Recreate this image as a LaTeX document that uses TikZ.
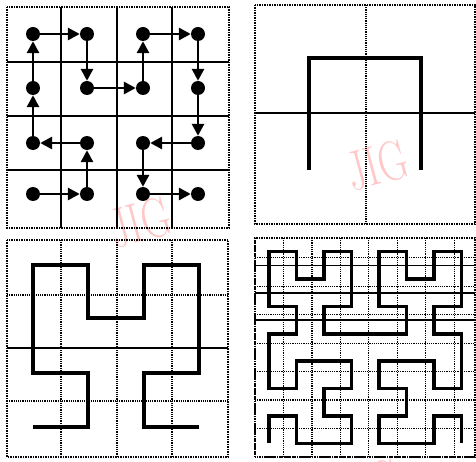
\documentclass[tikz,border=0pt]{standalone}
\usetikzlibrary{arrows.meta}
\begin{document}
\begin{tikzpicture}[x=1pt, y=-1pt,
  dot/.style={circle, fill=black, inner sep=0pt, minimum size=14pt},
  arr/.style={line width=2.8pt, -{Triangle[length=12pt,width=12pt]}},
  curve/.style={line width=3.5pt, line join=miter},
  frame/.style={line width=1.5pt, densely dotted},
  solidline/.style={line width=2.2pt},
  dotline/.style={line width=1.2pt, densely dotted},
  wmark/.style={text=red!22, font=\fontsize{56}{56}\selectfont, rotate=15, xscale=0.72}]
\useasboundingbox (0,0) rectangle (476,462);
% watermarks
\node[wmark] (jig1) at (377,165) {JIG};
\node[wmark] (jig2) at (140,222) {JIG};
\node[wmark] (jig3) at (370,484) {JIG};
% top left: grid with dots and arrows
\draw[frame] (7,7) rectangle (229,228);
\draw[solidline] (61,7) -- (61,228) (117,7) -- (117,228) (172,7) -- (172,228)
  (7,62) -- (229,62) (7,116) -- (229,116) (7,170) -- (229,170);
\node[dot] (d1) at (33,194) {};
\node[dot] (d2) at (87,194) {};
\node[dot] (d3) at (87,143) {};
\node[dot] (d4) at (33,143) {};
\node[dot] (d5) at (33,88) {};
\node[dot] (d6) at (33,34) {};
\node[dot] (d7) at (87,34) {};
\node[dot] (d8) at (87,88) {};
\node[dot] (d9) at (143,88) {};
\node[dot] (d10) at (143,34) {};
\node[dot] (d11) at (198,34) {};
\node[dot] (d12) at (198,88) {};
\node[dot] (d13) at (198,143) {};
\node[dot] (d14) at (143,143) {};
\node[dot] (d15) at (143,194) {};
\node[dot] (d16) at (198,194) {};
\draw[arr] (d1) -- (d2);
\draw[arr] (d2) -- (d3);
\draw[arr] (d3) -- (d4);
\draw[arr] (d4) -- (d5);
\draw[arr] (d5) -- (d6);
\draw[arr] (d6) -- (d7);
\draw[arr] (d7) -- (d8);
\draw[arr] (d8) -- (d9);
\draw[arr] (d9) -- (d10);
\draw[arr] (d10) -- (d11);
\draw[arr] (d11) -- (d12);
\draw[arr] (d12) -- (d13);
\draw[arr] (d13) -- (d14);
\draw[arr] (d14) -- (d15);
\draw[arr] (d15) -- (d16);
% top right: order 1
\draw[frame] (255,5) rectangle (475,224);
\draw[solidline] (255,113) -- (475,113);
\draw[dotline] (366,5) -- (366,224);
\draw[curve] (309,170) -- (309,58) -- (421,58) -- (421,170);
% bottom left: order 2
\draw[frame] (7,240) rectangle (228,457);
\draw[dotline] (61,240) -- (61,457) (117,240) -- (117,457) (172,240) -- (172,457)
  (7,295) -- (228,295) (7,401) -- (228,401);
\draw[line width=1.4pt] (7,348) -- (228,348);
\draw[curve] (33,427) -- (88,427) -- (88,373) -- (33,373) -- (33,265) -- (88,265)
  -- (88,318) -- (144,318) -- (144,265) -- (199,265) -- (199,373) -- (144,373)
  -- (144,427) -- (199,427);
% bottom right: order 3
\begin{scope}[shift={(255,457)}, x=27.5pt, y=27.375pt]
\draw[dotline] (0,0) grid (8,8);
\draw[frame] (0,0) rectangle (8,8);
\draw[line width=1.6pt] (0,5) -- (8,5) (0,6) -- (8,6) (0,7) -- (8,7);
\begin{scope}[shift={(0.5,0.5)}]
\draw[curve] (0,0) -- (0,1) -- (1,1) -- (1,0) -- (2,0) -- (3,0) -- (3,1) -- (2,1)
  -- (2,2) -- (3,2) -- (3,3) -- (2,3) -- (1,3) -- (1,2) -- (0,2) -- (0,3)
  -- (0,4) -- (1,4) -- (1,5) -- (0,5) -- (0,6) -- (0,7) -- (1,7) -- (1,6)
  -- (2,6) -- (2,7) -- (3,7) -- (3,6) -- (3,5) -- (2,5) -- (2,4) -- (3,4)
  -- (4,4) -- (5,4) -- (5,5) -- (4,5) -- (4,6) -- (4,7) -- (5,7) -- (5,6)
  -- (6,6) -- (6,7) -- (7,7) -- (7,6) -- (7,5) -- (6,5) -- (6,4) -- (7,4)
  -- (7,3) -- (7,2) -- (6,2) -- (6,3) -- (5,3) -- (4,3) -- (4,2) -- (5,2)
  -- (5,1) -- (4,1) -- (4,0) -- (5,0) -- (6,0) -- (6,1) -- (7,1) -- (7,0);
\end{scope}
\end{scope}
\end{tikzpicture}
\end{document}
